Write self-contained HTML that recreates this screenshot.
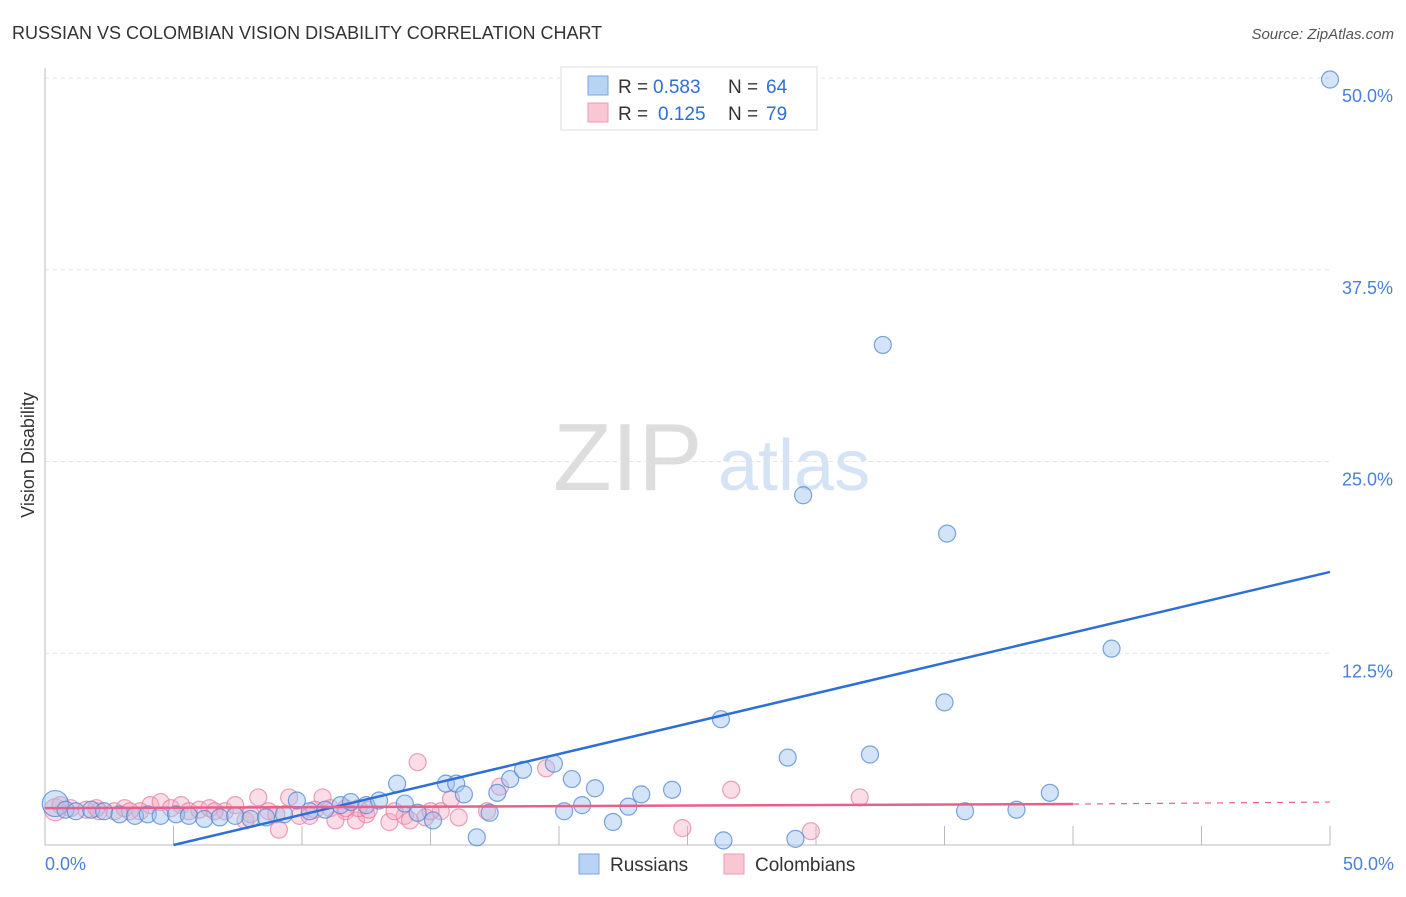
<!DOCTYPE html>
<html><head><meta charset="utf-8"><style>
body{margin:0;background:#fff;font-family:"Liberation Sans",sans-serif;}
svg text{font-family:"Liberation Sans",sans-serif;}
</style></head><body>
<svg id="chart" width="1406" height="892" xmlns="http://www.w3.org/2000/svg">
<text x="12" y="39" font-size="18" fill="#333">RUSSIAN VS COLOMBIAN VISION DISABILITY CORRELATION CHART</text>
<text x="1394" y="39" font-size="15" fill="#555" text-anchor="end" font-style="italic">Source: ZipAtlas.com</text>
<text x="553" y="490" font-size="96" fill="#ddd" font-family="Liberation Serif">ZIP</text>
<text x="718" y="490" font-size="72" fill="#d4e3f5">atlas</text>
<text transform="translate(34,455) rotate(-90)" font-size="18" fill="#333" text-anchor="middle">Vision Disability</text>
<g id="grid"></g><g id="pts"></g><g id="lines"></g>
<g>
<rect x="561" y="67" width="256" height="63" fill="#fff" stroke="#ddd"/>
<rect x="588" y="76" width="20" height="19" fill="#b8d3f4" stroke="#7aa5e0"/>
<rect x="588" y="103" width="20" height="19" fill="#f9c6d4" stroke="#ec9ab3"/>
<text x="618" y="93" font-size="19" fill="#333">R =</text>
<text x="653" y="93" font-size="19" fill="#2d6fd6">0.583</text>
<text x="728" y="93" font-size="19" fill="#333">N =</text>
<text x="766" y="93" font-size="19" fill="#2d6fd6">64</text>
<text x="618" y="120" font-size="19" fill="#333">R =</text>
<text x="658" y="120" font-size="19" fill="#2d6fd6">0.125</text>
<text x="728" y="120" font-size="19" fill="#333">N =</text>
<text x="766" y="120" font-size="19" fill="#2d6fd6">79</text>
</g>
<g>
<rect x="579" y="854" width="20" height="20" fill="#b8d3f4" stroke="#7aa5e0"/>
<text x="610" y="871" font-size="19" fill="#333">Russians</text>
<rect x="724" y="854" width="20" height="20" fill="#f9c6d4" stroke="#ec9ab3"/>
<text x="755" y="871" font-size="19" fill="#333">Colombians</text>
</g>
<text x="45" y="870" font-size="18" fill="#4a80d8">0.0%</text>
<text x="1394" y="870" font-size="18" fill="#4a80d8" text-anchor="end">50.0%</text>
</svg>
<script>
const yTicks=[12.5,25,37.5,50];
const yTickLabels=["12.5%","25.0%","37.5%","50.0%"];
const rusX=[0.4,0.8,1.2,1.8,2.3,2.9,3.5,4.0,4.5,5.1,5.6,6.2,6.8,7.4,8.0,8.6,9.3,9.8,10.3,10.9,11.5,11.9,12.5,13.0,13.7,14.0,14.5,15.1,15.6,16.0,16.3,16.8,17.3,17.6,18.1,18.6,19.8,20.2,20.5,20.9,21.4,22.1,22.7,23.2,24.4,26.3,26.4,28.9,29.2,29.5,32.1,32.6,35.0,35.1,35.8,37.8,39.1,41.5,50.0];
const rusY=[2.7,2.3,2.2,2.3,2.2,2.0,1.9,2.0,1.9,2.0,1.9,1.7,1.8,1.9,1.7,1.8,2.0,2.9,2.2,2.3,2.6,2.8,2.6,2.9,4.0,2.7,2.1,1.6,4.0,4.0,3.3,0.5,2.1,3.4,4.3,4.9,5.3,2.2,4.3,2.6,3.7,1.5,2.5,3.3,3.6,8.2,0.3,5.7,0.4,22.8,5.9,32.6,9.3,20.3,2.2,2.3,3.4,12.8,49.9];
const colX=[0.4,1.0,1.6,2.1,2.7,3.1,3.7,4.1,4.5,4.9,5.3,5.6,6.0,6.4,7.0,7.4,7.8,8.3,8.7,9.1,9.5,9.9,10.3,10.8,11.1,11.3,11.7,12.1,12.5,12.2,13.4,14.0,14.5,14.8,15.4,15.8,16.1,17.2,17.7,19.5,24.8,26.7,29.8,31.7,0.6,2.0,3.3,6.6,8.0,9.0,10.5,11.7,12.6,13.6,14.2,15.0];
const colY=[2.3,2.4,2.3,2.2,2.2,2.4,2.2,2.6,2.8,2.4,2.6,2.2,2.3,2.4,2.2,2.6,1.6,3.1,2.2,1.0,3.1,1.9,1.9,3.1,2.4,1.6,2.2,1.6,2.0,2.4,1.5,1.9,5.4,1.8,2.2,3.0,1.8,2.2,3.8,5.0,1.1,3.6,0.9,3.1,2.6,2.4,2.2,2.2,2.0,2.0,2.3,2.4,2.3,2.2,1.6,2.2];
const rusTrend=[[5,0],[50,17.8]];
const colTrend=[[0,2.4],[40,2.67],[50,2.8]];
const NS="http://www.w3.org/2000/svg";
const X=v=>45+v*25.7, Y=v=>845-v*15.34;
function mk(t,a,p){const e=document.createElementNS(NS,t);for(const k in a)e.setAttribute(k,a[k]);document.getElementById(p).appendChild(e);return e;}
yTicks.forEach((t,i)=>{
 const l=mk('line',{x1:45,x2:1330,y1:Y(t),y2:Y(t),stroke:'#e4e4e4','stroke-dasharray':'4,4'},'grid');
 
 
 const tx=mk('text',{x:1393,y:Y(t)+24,'font-size':18,fill:'#4a80d8','text-anchor':'end'},'grid');
 tx.textContent=yTickLabels[i];
 
 
});
const ax=mk('line',{x1:45,x2:45,y1:68,y2:845,stroke:'#bbb'},'grid');


const bx=mk('line',{x1:45,x2:1330,y1:845,y2:845,stroke:'#bbb'},'grid');


for(let i=1;i<=10;i++){const t=mk('line',{x1:X(i*5),x2:X(i*5),y1:826,y2:845,stroke:'#bbb'},'grid');
 
 }
colX.forEach((x,i)=>{const c=mk('circle',{cx:X(x),cy:Y(colY[i]),r:i==0?11:8.5,fill:'rgba(245,170,195,0.4)',stroke:'rgba(232,120,155,0.7)','stroke-width':1.2},'pts');
 
 });
rusX.forEach((x,i)=>{const c=mk('circle',{cx:X(x),cy:Y(rusY[i]),r:i==0?13:8.5,fill:'rgba(160,195,240,0.45)',stroke:'rgba(80,135,210,0.75)','stroke-width':1.2},'pts');
 
 });
const rl=mk('line',{x1:X(rusTrend[0][0]),y1:Y(rusTrend[0][1]),x2:X(rusTrend[1][0]),y2:Y(rusTrend[1][1]),stroke:'#2d6fd6','stroke-width':2.5},'lines');


const cl=mk('line',{x1:X(colTrend[0][0]),y1:Y(colTrend[0][1]),x2:X(colTrend[1][0]),y2:Y(colTrend[1][1]),stroke:'#e8608a','stroke-width':2.5},'lines');


const cd=mk('line',{x1:X(colTrend[1][0]),y1:Y(colTrend[1][1]),x2:X(colTrend[2][0]),y2:Y(colTrend[2][1]),stroke:'#e8608a','stroke-width':1.2,'stroke-dasharray':'6,6'},'lines');


</script>
</body></html>
